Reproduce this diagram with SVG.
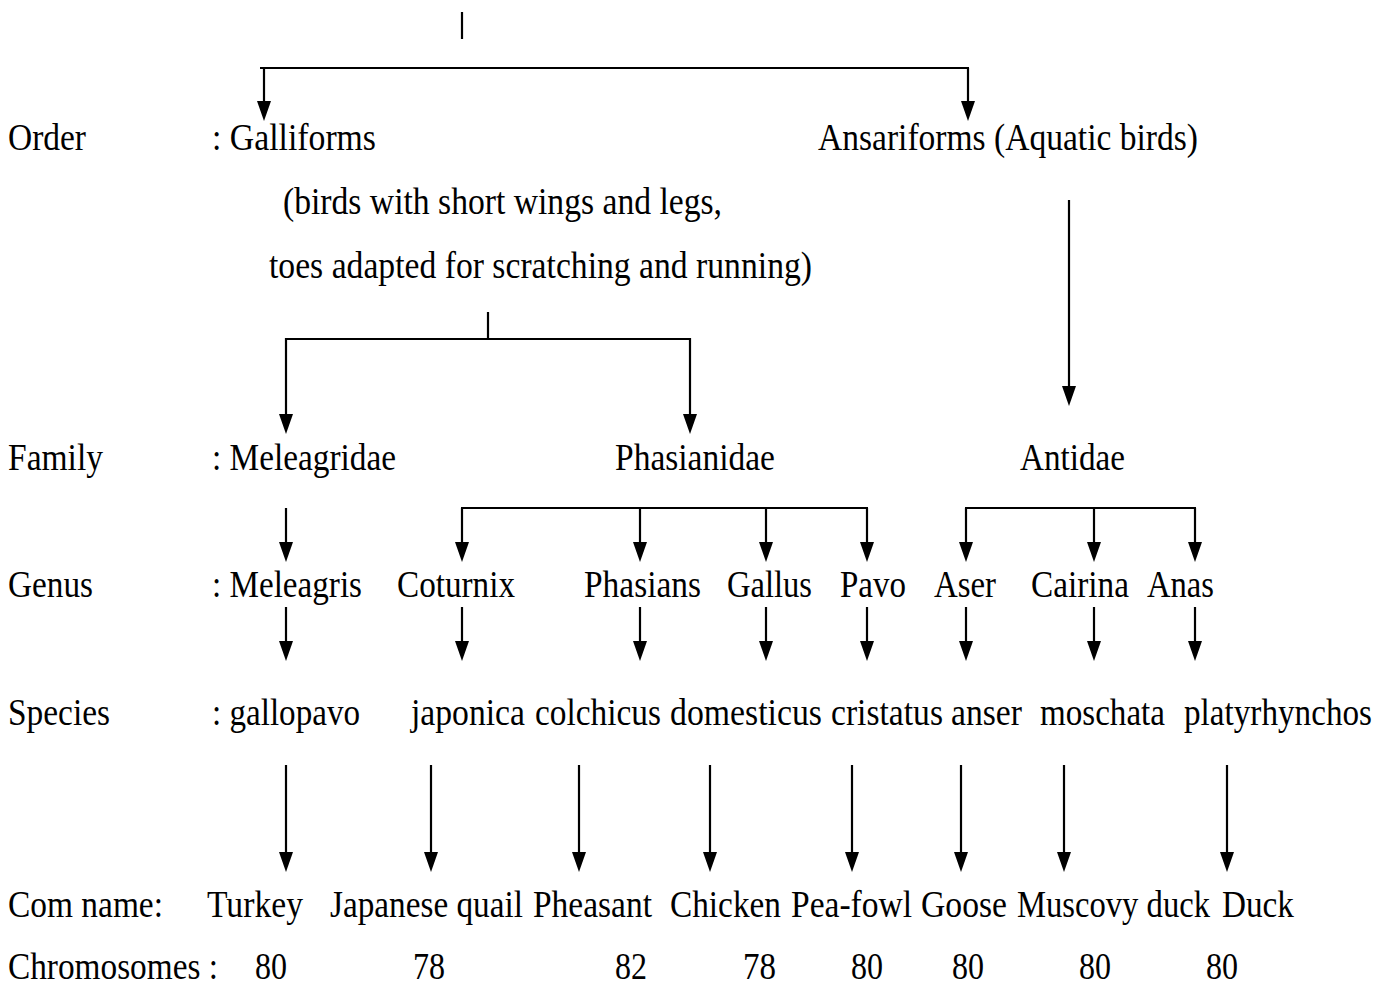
<svg xmlns="http://www.w3.org/2000/svg" width="1390" height="985" viewBox="0 0 1390 985">
<style>
text{font-family:"Liberation Serif","Times New Roman",serif;font-size:37px;fill:#000}
.c line,.c path{stroke:#000;stroke-width:2.2;fill:none}
.a{marker-end:url(#ah)}
</style>
<defs>
<marker id="ah" viewBox="0 0 20 14" refX="8" refY="7" markerWidth="20" markerHeight="14" markerUnits="userSpaceOnUse" orient="auto">
<path d="M0,0 L20,7 L0,14 z" fill="#000"/>
</marker>
</defs>
<rect width="1390" height="985" fill="#fff"/>

<g id="labels">
<text x="8" y="150" textLength="78" lengthAdjust="spacingAndGlyphs">Order</text>
<text x="8" y="470" textLength="95" lengthAdjust="spacingAndGlyphs">Family</text>
<text x="8" y="597" textLength="85" lengthAdjust="spacingAndGlyphs">Genus</text>
<text x="8" y="725" textLength="102" lengthAdjust="spacingAndGlyphs">Species</text>
<text x="8" y="917" textLength="155" lengthAdjust="spacingAndGlyphs">Com name:</text>
<text x="8" y="979" textLength="210" lengthAdjust="spacingAndGlyphs">Chromosomes :</text>
</g>

<g id="order-galliforms">
<text x="212" y="150" textLength="164" lengthAdjust="spacingAndGlyphs">: Galliforms</text>
<text x="283" y="214" textLength="439" lengthAdjust="spacingAndGlyphs">(birds with short wings and legs,</text>
<text x="269" y="278" textLength="543" lengthAdjust="spacingAndGlyphs">toes adapted for scratching and running)</text>
</g>
<g id="order-ansariforms">
<text x="818" y="150" textLength="380" lengthAdjust="spacingAndGlyphs">Ansariforms (Aquatic birds)</text>
</g>

<g id="family-meleagridae"><text x="212" y="470" textLength="184" lengthAdjust="spacingAndGlyphs">: Meleagridae</text></g>
<g id="family-phasianidae"><text x="615" y="470" textLength="160" lengthAdjust="spacingAndGlyphs">Phasianidae</text></g>
<g id="family-antidae"><text x="1020" y="470" textLength="105" lengthAdjust="spacingAndGlyphs">Antidae</text></g>

<g id="genus-meleagris"><text x="212" y="597" textLength="150" lengthAdjust="spacingAndGlyphs">: Meleagris</text></g>
<g id="genus-coturnix"><text x="397" y="597" textLength="118" lengthAdjust="spacingAndGlyphs">Coturnix</text></g>
<g id="genus-phasians"><text x="584" y="597" textLength="117" lengthAdjust="spacingAndGlyphs">Phasians</text></g>
<g id="genus-gallus"><text x="727" y="597" textLength="85" lengthAdjust="spacingAndGlyphs">Gallus</text></g>
<g id="genus-pavo"><text x="840" y="597" textLength="66" lengthAdjust="spacingAndGlyphs">Pavo</text></g>
<g id="genus-aser"><text x="934" y="597" textLength="62" lengthAdjust="spacingAndGlyphs">Aser</text></g>
<g id="genus-cairina"><text x="1031" y="597" textLength="98" lengthAdjust="spacingAndGlyphs">Cairina</text></g>
<g id="genus-anas"><text x="1147" y="597" textLength="67" lengthAdjust="spacingAndGlyphs">Anas</text></g>

<g id="species-gallopavo"><text x="212" y="725" textLength="148" lengthAdjust="spacingAndGlyphs">: gallopavo</text></g>
<g id="species-japonica"><text x="411" y="725" textLength="114" lengthAdjust="spacingAndGlyphs">japonica</text></g>
<g id="species-colchicus"><text x="535" y="725" textLength="126" lengthAdjust="spacingAndGlyphs">colchicus</text></g>
<g id="species-domesticus"><text x="670" y="725" textLength="152" lengthAdjust="spacingAndGlyphs">domesticus</text></g>
<g id="species-cristatus"><text x="831" y="725" textLength="112" lengthAdjust="spacingAndGlyphs">cristatus</text></g>
<g id="species-anser"><text x="951" y="725" textLength="71" lengthAdjust="spacingAndGlyphs">anser</text></g>
<g id="species-moschata"><text x="1040" y="725" textLength="125" lengthAdjust="spacingAndGlyphs">moschata</text></g>
<g id="species-platyrhynchos"><text x="1184" y="725" textLength="188" lengthAdjust="spacingAndGlyphs">platyrhynchos</text></g>

<g id="name-turkey"><text x="207" y="917" textLength="96" lengthAdjust="spacingAndGlyphs">Turkey</text><text x="255" y="979" textLength="32" lengthAdjust="spacingAndGlyphs">80</text></g>
<g id="name-quail"><text x="330" y="917" textLength="193" lengthAdjust="spacingAndGlyphs">Japanese quail</text><text x="413" y="979" textLength="32" lengthAdjust="spacingAndGlyphs">78</text></g>
<g id="name-pheasant"><text x="533" y="917" textLength="119" lengthAdjust="spacingAndGlyphs">Pheasant</text><text x="615" y="979" textLength="32" lengthAdjust="spacingAndGlyphs">82</text></g>
<g id="name-chicken"><text x="670" y="917" textLength="111" lengthAdjust="spacingAndGlyphs">Chicken</text><text x="743" y="979" textLength="33" lengthAdjust="spacingAndGlyphs">78</text></g>
<g id="name-peafowl"><text x="791" y="917" textLength="121" lengthAdjust="spacingAndGlyphs">Pea-fowl</text><text x="851" y="979" textLength="32" lengthAdjust="spacingAndGlyphs">80</text></g>
<g id="name-goose"><text x="921" y="917" textLength="86" lengthAdjust="spacingAndGlyphs">Goose</text><text x="952" y="979" textLength="32" lengthAdjust="spacingAndGlyphs">80</text></g>
<g id="name-muscovy"><text x="1017" y="917" textLength="193" lengthAdjust="spacingAndGlyphs">Muscovy duck</text><text x="1079" y="979" textLength="32" lengthAdjust="spacingAndGlyphs">80</text></g>
<g id="name-duck"><text x="1222" y="917" textLength="72" lengthAdjust="spacingAndGlyphs">Duck</text><text x="1206" y="979" textLength="32" lengthAdjust="spacingAndGlyphs">80</text></g>

<g id="connectors" class="c">
<line x1="462" y1="12" x2="462" y2="39"/>
<line x1="260" y1="68" x2="969" y2="68"/>
<line class="a" x1="264" y1="68" x2="264" y2="109"/>
<line class="a" x1="968" y1="68" x2="968" y2="109"/>

<line x1="488" y1="312" x2="488" y2="339"/>
<line x1="285" y1="339" x2="691" y2="339"/>
<line class="a" x1="286" y1="338" x2="286" y2="422"/>
<line class="a" x1="690" y1="338" x2="690" y2="422"/>

<line class="a" x1="1069" y1="200" x2="1069" y2="394"/>

<line class="a" x1="286" y1="508" x2="286" y2="550"/>
<line x1="461" y1="508" x2="868" y2="508"/>
<line class="a" x1="462" y1="508" x2="462" y2="550"/>
<line class="a" x1="640" y1="508" x2="640" y2="550"/>
<line class="a" x1="766" y1="508" x2="766" y2="550"/>
<line class="a" x1="867" y1="508" x2="867" y2="550"/>
<line x1="965" y1="508" x2="1196" y2="508"/>
<line class="a" x1="966" y1="508" x2="966" y2="550"/>
<line class="a" x1="1094" y1="508" x2="1094" y2="550"/>
<line class="a" x1="1195" y1="508" x2="1195" y2="550"/>

<line class="a" x1="286" y1="607" x2="286" y2="649"/>
<line class="a" x1="462" y1="607" x2="462" y2="649"/>
<line class="a" x1="640" y1="607" x2="640" y2="649"/>
<line class="a" x1="766" y1="607" x2="766" y2="649"/>
<line class="a" x1="867" y1="607" x2="867" y2="649"/>
<line class="a" x1="966" y1="607" x2="966" y2="649"/>
<line class="a" x1="1094" y1="607" x2="1094" y2="649"/>
<line class="a" x1="1195" y1="607" x2="1195" y2="649"/>

<line class="a" x1="286" y1="765" x2="286" y2="860"/>
<line class="a" x1="431" y1="765" x2="431" y2="860"/>
<line class="a" x1="579" y1="765" x2="579" y2="860"/>
<line class="a" x1="710" y1="765" x2="710" y2="860"/>
<line class="a" x1="852" y1="765" x2="852" y2="860"/>
<line class="a" x1="961" y1="765" x2="961" y2="860"/>
<line class="a" x1="1064" y1="765" x2="1064" y2="860"/>
<line class="a" x1="1227" y1="765" x2="1227" y2="860"/>
</g>
</svg>
